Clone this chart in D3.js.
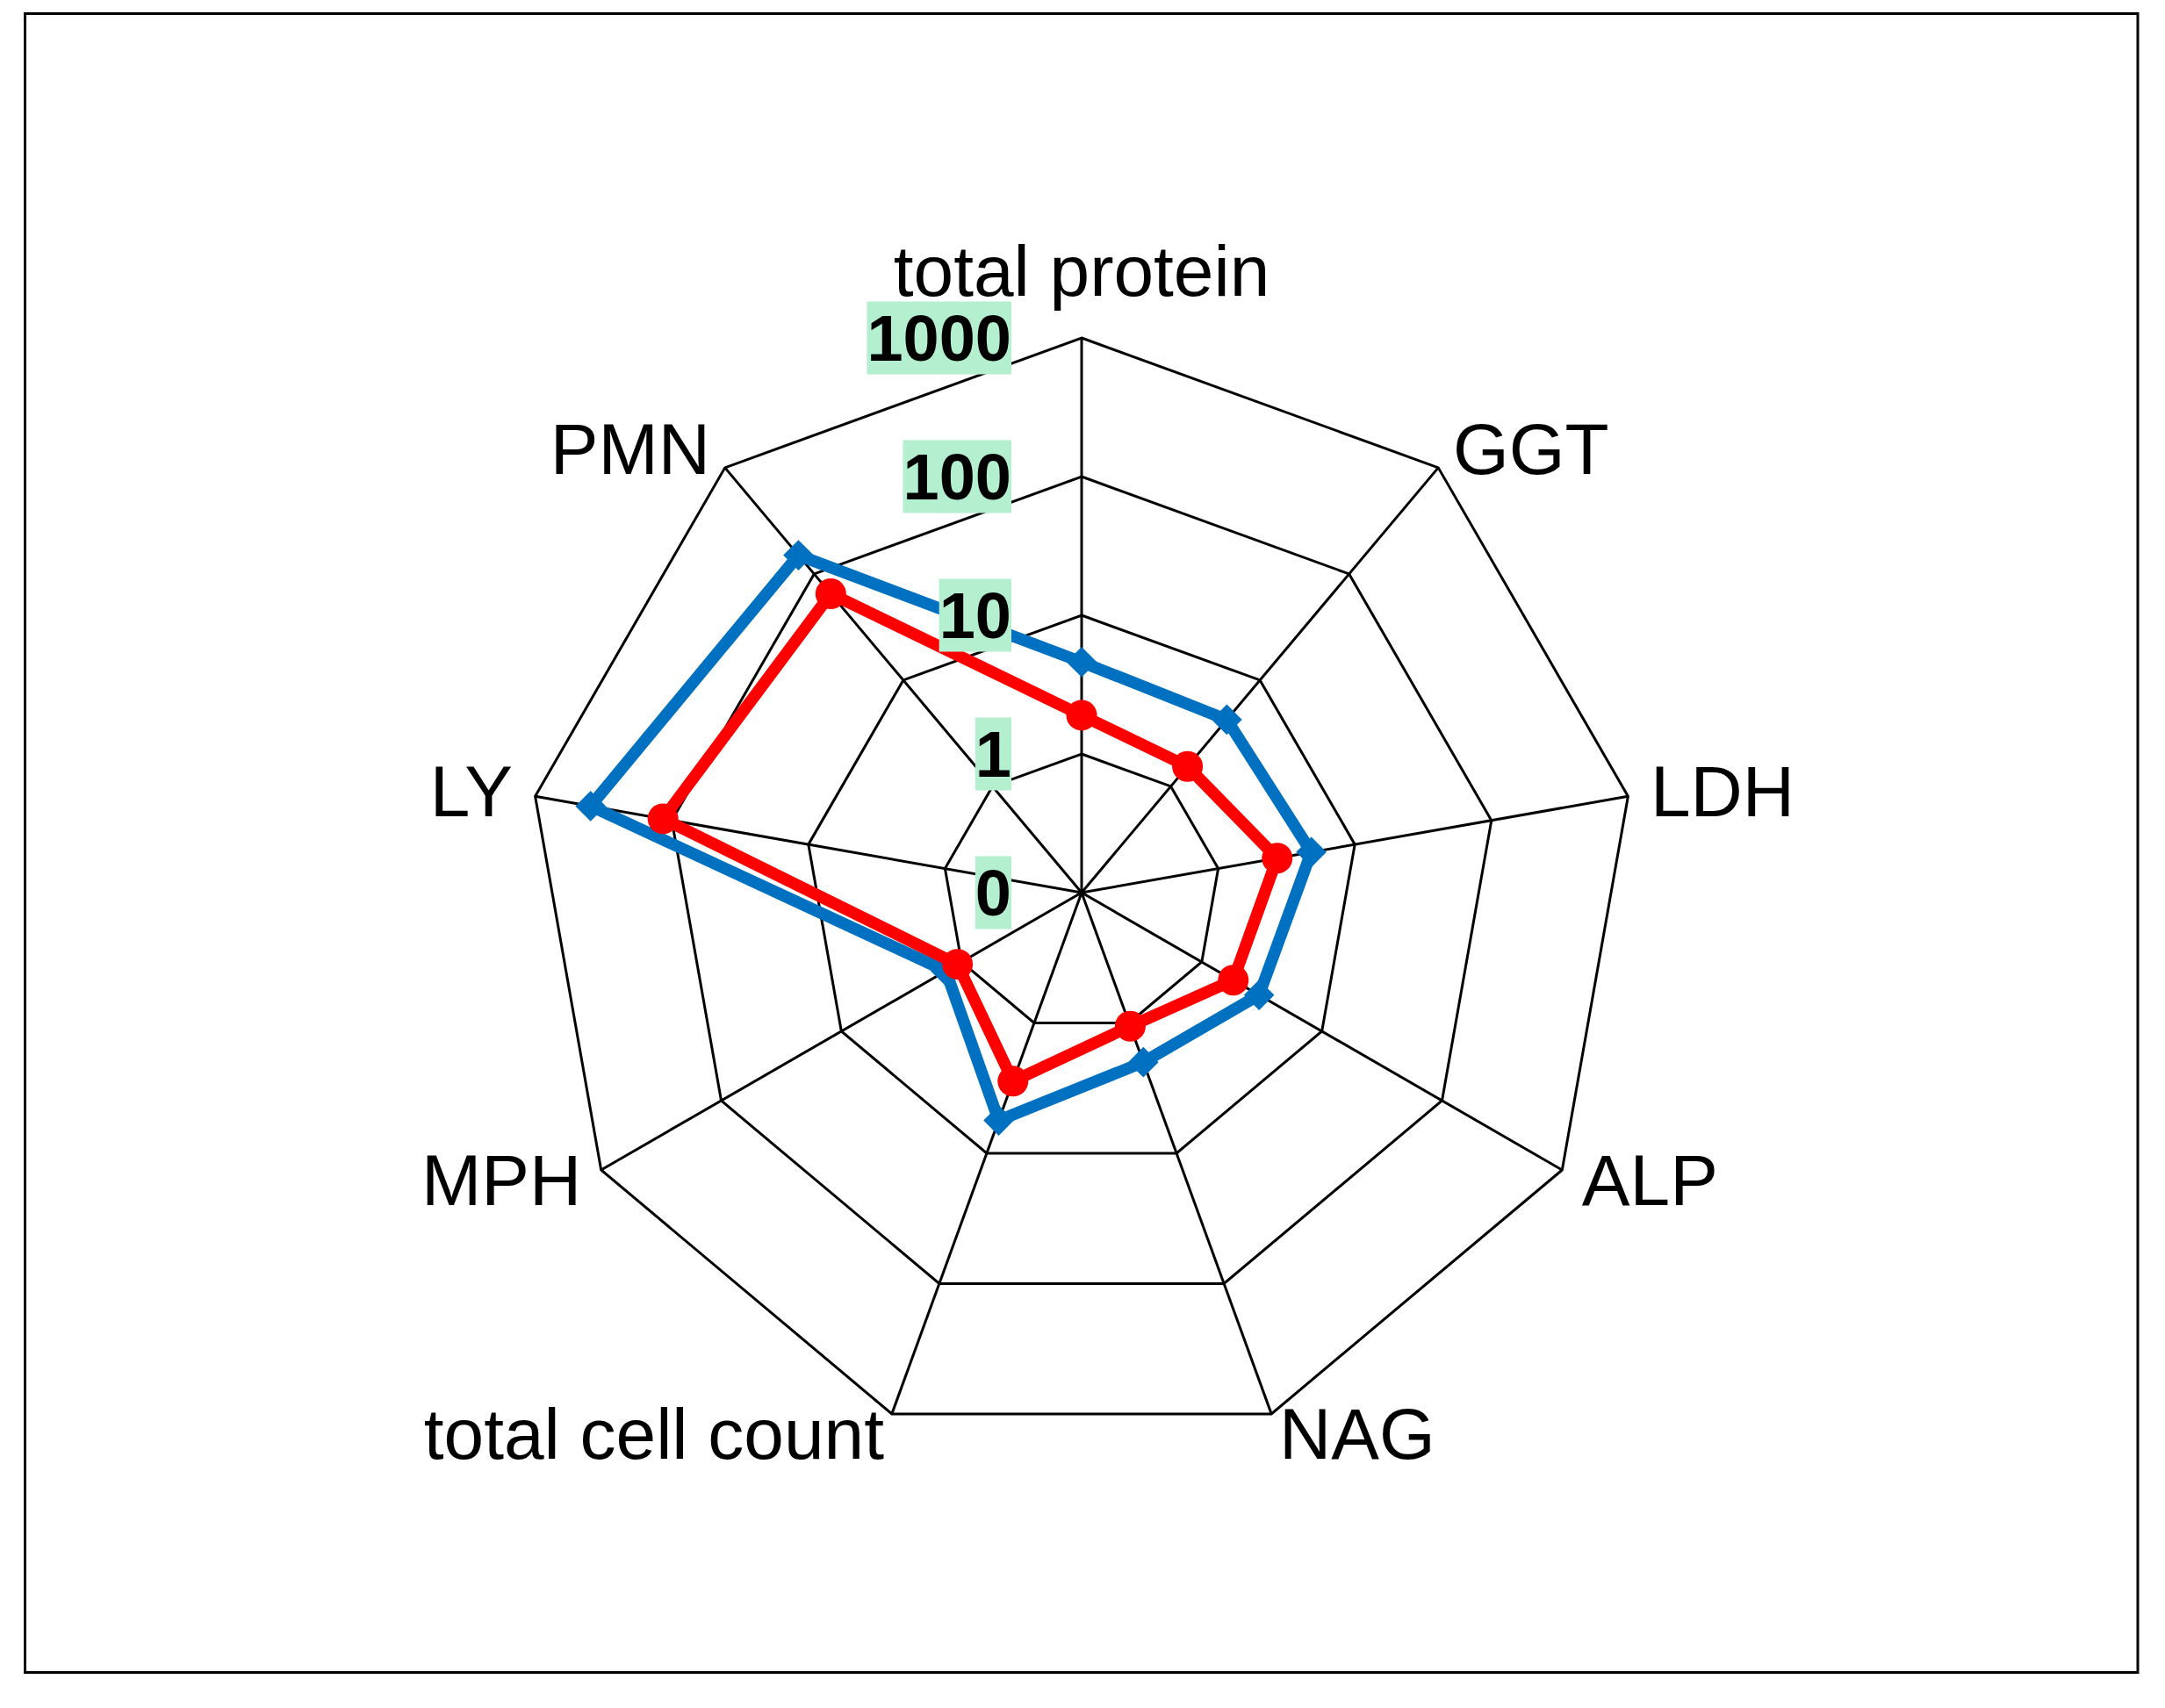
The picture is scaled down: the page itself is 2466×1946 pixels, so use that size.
<!DOCTYPE html>
<html>
<head>
<meta charset="utf-8">
<script src="https://cdn.jsdelivr.net/npm/d3@7"></script>
<style>
  html, body { margin: 0; padding: 0; background: #fff; }
  svg { display: block; }
</style>
</head>
<body>
<svg id="chart" width="2466" height="1946"></svg>
<script>
// ---- data ----
const categories = ["total protein", "GGT", "LDH", "ALP", "NAG", "total cell count", "MPH", "LY", "PMN"];
const seriesBlue = [4.6, 4.25, 4.8, 3.0, 2.0, 5.6, 1.35, 393, 150];
const seriesRed  = [1.9, 1.54, 2.7, 1.83, 1.06, 2.8, 1.08, 116, 65];
const tickValues = [0.1, 1, 10, 100, 1000];
const tickLabels = ["0", "1", "10", "100", "1000"];

// ---- layout ----
const cx = 1232, cy = 1017, R = 632;
const svg = d3.select("#chart");

svg.append("rect")
  .attr("x", 28.5).attr("y", 15.5)
  .attr("width", 2435 - 28.5).attr("height", 1905.5 - 15.5)
  .attr("fill", "none").attr("stroke", "#000").attr("stroke-width", 3);

const g = svg.append("g").attr("transform", `translate(${cx},${cy})`);

const n = categories.length;
const angle = d3.scaleLinear().domain([0, n]).range([0, 2 * Math.PI]);
const rScale = d3.scaleLog().domain([0.1, 1000]).range([0, R]);

const px = (a, r) => r * Math.sin(a);
const py = (a, r) => -r * Math.cos(a);

// grid rings
const ringLine = d3.lineRadial()
  .angle((d, i) => angle(i))
  .radius(d => rScale(d))
  .curve(d3.curveLinearClosed);

tickValues.slice(1).forEach(v => {
  g.append("path")
    .attr("d", ringLine(categories.map(() => v)))
    .attr("fill", "none").attr("stroke", "#000").attr("stroke-width", 3);
});

// spokes
categories.forEach((c, i) => {
  const a = angle(i);
  g.append("line")
    .attr("x1", 0).attr("y1", 0)
    .attr("x2", px(a, R)).attr("y2", py(a, R))
    .attr("stroke", "#000").attr("stroke-width", 3);
});

// category labels
categories.forEach((c, i) => {
  const a = angle(i);
  const vx = px(a, R), vy = py(a, R);
  const s = Math.sin(a), co = Math.cos(a);
  let anchor, x, y;
  if (Math.abs(s) < 0.01) {
    anchor = "middle"; x = vx; y = vy - 48;
  } else {
    anchor = s > 0 ? "start" : "end";
    x = vx + 26 * s;
    y = vy + 27 - 26 * co;
  }
  g.append("text")
    .attr("x", x).attr("y", y)
    .attr("text-anchor", anchor)
    .attr("font-family", "'Liberation Sans', Arial, sans-serif")
    .attr("font-size", 82)
    .attr("fill", "#000")
    .text(c);
});

// series
function drawSeries(values, color, shape) {
  g.append("path")
    .attr("d", ringLine(values))
    .attr("fill", "none")
    .attr("stroke", color)
    .attr("stroke-width", 13.5)
    .attr("stroke-linejoin", "miter");
  const sym = shape === "circle"
    ? d3.symbol().type(d3.symbolCircle).size(Math.PI * 17.5 * 17.5)
    : d3.symbol().type(d3.symbolSquare).size(24.5 * 24.5);
  g.selectAll(null).data(values).enter().append("path")
    .attr("d", sym)
    .attr("transform", (d, i) => {
      const a = angle(i), r = rScale(d);
      return `translate(${px(a, r)},${py(a, r)})` + (shape === "circle" ? "" : " rotate(45)");
    })
    .attr("fill", color);
}
drawSeries(seriesBlue, "#0070C0", "diamond");
drawSeries(seriesRed, "#FF0000", "circle");

// tick labels (drawn on top)
const fs = 74;
tickValues.forEach((v, k) => {
  const ry = -rScale(v);
  const t = g.append("text")
    .attr("x", -80)
    .attr("y", ry + 25.5)
    .attr("text-anchor", "end")
    .attr("font-family", "'Liberation Sans', Arial, sans-serif")
    .attr("font-weight", "bold")
    .attr("font-size", fs)
    .attr("fill", "#000")
    .text(tickLabels[k]);
  const bb = t.node().getBBox();
  g.insert("rect", () => t.node())
    .attr("x", bb.x).attr("y", bb.y)
    .attr("width", bb.width).attr("height", bb.height)
    .attr("fill", "#B4EFCF");
});
</script>
</body>
</html>
